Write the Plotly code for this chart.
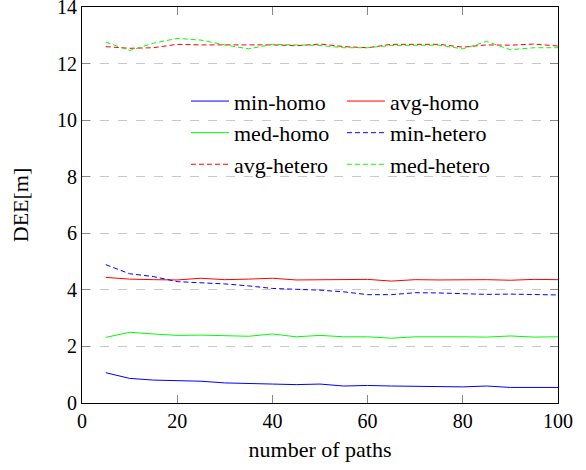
import plotly.graph_objects as go

paths = [5, 10, 15, 20, 25, 30, 35, 40, 45, 50, 55, 60, 65, 70, 75, 80, 85, 90, 95, 100]

min_homo = [1.07, 0.87, 0.81, 0.78, 0.77, 0.71, 0.70, 0.67, 0.65, 0.67,
            0.60, 0.62, 0.60, 0.58, 0.58, 0.57, 0.60, 0.55, 0.55, 0.55]
avg_homo = [4.44, 4.38, 4.36, 4.35, 4.41, 4.36, 4.38, 4.41, 4.35, 4.35,
            4.37, 4.37, 4.31, 4.36, 4.35, 4.36, 4.36, 4.34, 4.37, 4.36]
med_homo = [2.32, 2.50, 2.44, 2.39, 2.40, 2.39, 2.36, 2.44, 2.34, 2.39,
            2.34, 2.34, 2.29, 2.34, 2.35, 2.34, 2.33, 2.37, 2.33, 2.34]
min_hetero = [4.89, 4.57, 4.47, 4.29, 4.25, 4.21, 4.14, 4.05, 4.02, 3.99,
              3.93, 3.83, 3.83, 3.90, 3.89, 3.87, 3.84, 3.85, 3.84, 3.82]
avg_hetero = [12.60, 12.54, 12.56, 12.68, 12.66, 12.66, 12.66, 12.66, 12.63, 12.69,
              12.60, 12.56, 12.68, 12.68, 12.68, 12.58, 12.66, 12.65, 12.69, 12.62]
med_hetero = [12.76, 12.46, 12.72, 12.89, 12.83, 12.66, 12.52, 12.68, 12.66, 12.64,
              12.56, 12.56, 12.64, 12.64, 12.65, 12.52, 12.78, 12.49, 12.56, 12.56]

# (name, values, colour, dash, legend column)
series = [
    ("min-homo", min_homo, "#0000ff", "solid", "legend"),
    ("avg-homo", avg_homo, "#ff0000", "solid", "legend2"),
    ("med-homo", med_homo, "#00ff00", "solid", "legend"),
    ("min-hetero", min_hetero, "#0000ff", "5px,3px", "legend2"),
    ("avg-hetero", avg_hetero, "#ff0000", "5px,3px", "legend"),
    ("med-hetero", med_hetero, "#00ff00", "5px,3px", "legend2"),
]

FONT = "'Liberation Serif', 'Times New Roman', serif"
TICK_SIZE = 20
LABEL_SIZE = 22

fig = go.Figure()
for name, ys, color, dash, leg in series:
    fig.add_trace(go.Scatter(x=paths, y=ys, mode="lines", name=name, legend=leg,
                             line=dict(color=color, width=1, dash=dash)))

axis_common = dict(
    showline=True, linecolor="black", linewidth=1, mirror="ticks",
    ticks="inside", ticklen=8, tickcolor="#888888", tickwidth=1,
    zeroline=False, ticklabeloverflow="allow",
    tickfont=dict(family=FONT, size=TICK_SIZE, color="black"),
)

fig.update_xaxes(range=[0, 100], tickvals=[0, 20, 40, 60, 80, 100],
                 showgrid=False, automargin="bottom",
                 title=dict(text="number of paths", standoff=10,
                            font=dict(family=FONT, size=LABEL_SIZE, color="black")),
                 **axis_common)
fig.update_yaxes(range=[0, 14], tickvals=[0, 2, 4, 6, 8, 10, 12, 14],
                 showgrid=True, gridcolor="#c8c8c8", griddash="dash", gridwidth=1,
                 automargin="left",
                 title=dict(text="DEE[m]", standoff=22,
                            font=dict(family=FONT, size=LABEL_SIZE, color="black")),
                 **axis_common)

leg_common = dict(orientation="v", yanchor="top", xanchor="left", y=0.815,
                  font=dict(family=FONT, size=LABEL_SIZE, color="black"),
                  bgcolor="rgba(0,0,0,0)", borderwidth=0, itemwidth=38,
                  tracegroupgap=0)

fig.update_layout(
    width=586, height=470,
    margin=dict(l=82, r=28, t=7, b=67),
    plot_bgcolor="white", paper_bgcolor="white",
    font=dict(family=FONT, size=TICK_SIZE, color="black"),
    legend=dict(x=0.2185, **leg_common),
    legend2=dict(x=0.546, **leg_common),
    showlegend=True,
)

fig.write_html("out.html")
